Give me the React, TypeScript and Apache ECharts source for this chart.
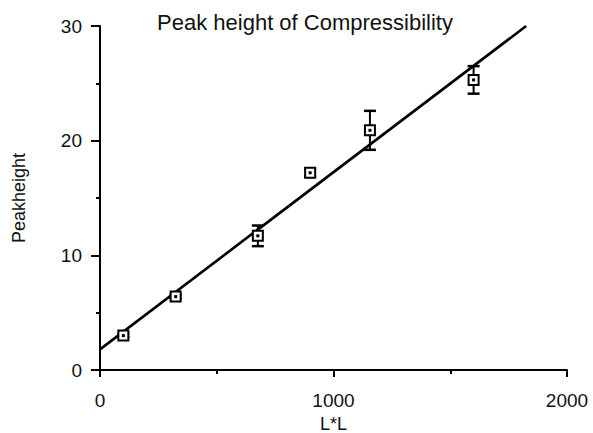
import React, { useEffect, useRef } from "react";
import * as echarts from "echarts";

const xValues = [100, 324, 676, 900, 1156, 1600];
const yValues = [3.0, 6.4, 11.7, 17.2, 20.9, 25.3];
const yErrors = [0.15, 0.15, 0.9, 0.35, 1.7, 1.2];
const fitX = [0, 1825];
const fitY = [1.8, 30];
const xTicks = [0, 1000, 2000];
const yTicks = [0, 10, 20, 30];

const FONT = "'Liberation Sans', Arial, Helvetica, sans-serif";

export default function App() {
  const ref = useRef<HTMLDivElement>(null);
  useEffect(() => {
    if (!ref.current) return;
    const chart = echarts.init(ref.current, undefined, { renderer: "svg" });
    const pts = xValues.map((x, i) => [x, yValues[i], yErrors[i]]);
    chart.setOption({
      animation: false,
      backgroundColor: "#ffffff",
      title: {
        text: "Peak height of Compressibility",
        left: 300,
        top: 6,
        textAlign: "center",
        textStyle: { fontFamily: FONT, fontSize: 22, fontWeight: "normal", color: "#111" },
      },
      grid: { left: 100, right: 26, top: 26, bottom: 63, containLabel: false, outerBoundsMode: "none" },
      xAxis: {
        type: "value",
        min: xTicks[0],
        max: xTicks[xTicks.length - 1],
        interval: 1000,
        name: "L*L",
        nameLocation: "middle",
        nameGap: 40,
        nameTextStyle: { fontFamily: FONT, fontSize: 18, color: "#111" },
        axisLine: { show: true, onZero: false, lineStyle: { color: "#000", width: 2 } },
        axisTick: { show: true, length: 7, lineStyle: { color: "#000", width: 2 } },
        minorTick: { show: true, splitNumber: 2, length: 4, lineStyle: { color: "#000", width: 2 } },
        axisLabel: { margin: 21, fontFamily: FONT, fontSize: 19, color: "#111", formatter: (v: number) => String(v) },
        splitLine: { show: false },
      },
      yAxis: {
        type: "value",
        min: yTicks[0],
        max: yTicks[yTicks.length - 1],
        interval: 10,
        name: "Peakheight",
        nameLocation: "middle",
        nameGap: 72,
        nameRotate: 90,
        nameTextStyle: { fontFamily: FONT, fontSize: 18, color: "#111" },
        axisLine: { show: true, onZero: false, lineStyle: { color: "#000", width: 2 } },
        axisTick: { show: true, length: 9, lineStyle: { color: "#000", width: 2 } },
        minorTick: { show: true, splitNumber: 2, length: 4, lineStyle: { color: "#000", width: 2 } },
        axisLabel: { margin: 18, fontFamily: FONT, fontSize: 19, color: "#111", formatter: (v: number) => String(v) },
        splitLine: { show: false },
      },
      series: [
        {
          type: "line",
          data: fitX.map((x, i) => [x, fitY[i]]),
          showSymbol: false,
          lineStyle: { color: "#000", width: 2.6 },
          z: 2,
        },
        {
          type: "custom",
          data: pts,
          z: 5,
          renderItem: (params: any, api: any) => {
            const x = api.value(0);
            const y = api.value(1);
            const e = api.value(2);
            const c = api.coord([x, y]);
            const top = api.coord([x, y + e]);
            const bot = api.coord([x, y - e]);
            const capW = 6;
            const s = 5;
            return {
              type: "group",
              children: [
                { type: "line", shape: { x1: c[0], y1: top[1], x2: c[0], y2: bot[1] }, style: { stroke: "#000", lineWidth: 2 } },
                { type: "line", shape: { x1: c[0] - capW, y1: top[1], x2: c[0] + capW, y2: top[1] }, style: { stroke: "#000", lineWidth: 2.5 } },
                { type: "line", shape: { x1: c[0] - capW, y1: bot[1], x2: c[0] + capW, y2: bot[1] }, style: { stroke: "#000", lineWidth: 2.5 } },
                { type: "rect", shape: { x: c[0] - s, y: c[1] - s, width: 2 * s, height: 2 * s }, style: { fill: "#fff", stroke: "#000", lineWidth: 2 } },
                { type: "rect", shape: { x: c[0] - 1.5, y: c[1] - 1.5, width: 3, height: 3 }, style: { fill: "#000" } },
              ],
            };
          },
        },
      ],
    });
    return () => chart.dispose();
  }, []);
  return <div ref={ref} style={{ width: 593, height: 433, position: "absolute", left: 0, top: 0 }} />;
}
